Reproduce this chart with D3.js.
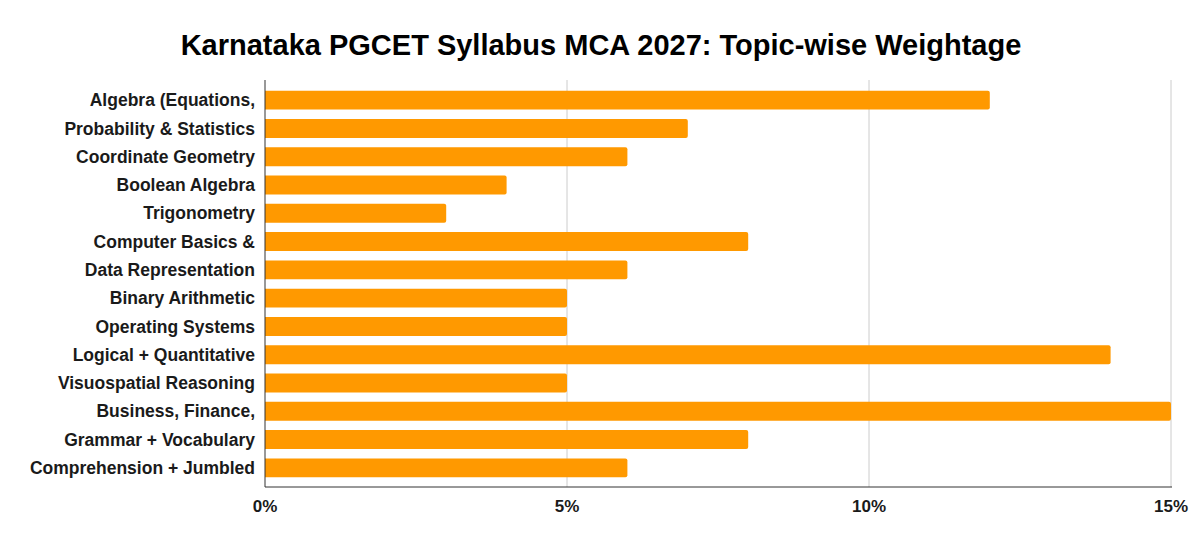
<!DOCTYPE html>
<html>
<head>
<meta charset="utf-8">
<script src="https://cdn.jsdelivr.net/npm/d3@7"></script>
<style>
  body { margin: 0; background: #fff; }
  text { font-family: "Liberation Sans", Arial, sans-serif; }
</style>
</head>
<body>
<div id="chart"></div>
<script>
// Topics, top to bottom
var topics = ["Algebra (Equations,", "Probability & Statistics", "Coordinate Geometry",
  "Boolean Algebra", "Trigonometry", "Computer Basics &", "Data Representation",
  "Binary Arithmetic", "Operating Systems", "Logical + Quantitative",
  "Visuospatial Reasoning", "Business, Finance,", "Grammar + Vocabulary",
  "Comprehension + Jumbled"];
// Weightage in percent
var weights = [12, 7, 6, 4, 3, 8, 6, 5, 5, 14, 5, 15, 8, 6];
var ticks = [0, 5, 10, 15];

var width = 1200, height = 544;
var plotLeft = 265, plotRight = 1171, plotTop = 80, plotBottom = 487;

var svg = d3.select("#chart").append("svg")
  .attr("width", width)
  .attr("height", height);

// title
svg.append("text")
  .attr("x", 601).attr("y", 55)
  .attr("text-anchor", "middle")
  .style("font-size", "29px")
  .style("font-weight", "bold")
  .attr("fill", "#000")
  .text("Karnataka PGCET Syllabus MCA 2027: Topic-wise Weightage");

var x = d3.scaleLinear().domain([0, 15]).range([plotLeft, plotRight]);
var y = d3.scaleBand().domain(topics).range([86, 482]).paddingInner(0.33).paddingOuter(0.165);

// gridlines
svg.selectAll("line.grid")
  .data(ticks.slice(1))
  .enter().append("line")
  .attr("class", "grid")
  .attr("x1", function(d) { return x(d); })
  .attr("x2", function(d) { return x(d); })
  .attr("y1", plotTop).attr("y2", plotBottom)
  .attr("stroke", "#cccccc")
  .attr("stroke-width", 1);

// bars, slightly rounded at the end
var data = topics.map(function(t, i) { return { topic: t, value: weights[i] }; });
svg.selectAll("path.bar")
  .data(data)
  .enter().append("path")
  .attr("class", "bar")
  .attr("fill", "#ff9900")
  .attr("d", function(d) {
    var x0 = x(0), x1 = x(d.value), y0 = y(d.topic), h = y.bandwidth(), r = 2;
    return "M" + x0 + "," + y0 + "H" + (x1 - r) +
      "Q" + x1 + "," + y0 + " " + x1 + "," + (y0 + r) +
      "V" + (y0 + h - r) +
      "Q" + x1 + "," + (y0 + h) + " " + (x1 - r) + "," + (y0 + h) +
      "H" + x0 + "Z";
  });

// axis lines
svg.append("line")
  .attr("x1", plotLeft).attr("x2", plotLeft)
  .attr("y1", plotTop).attr("y2", plotBottom)
  .attr("stroke", "#333").attr("stroke-width", 1);
svg.append("line")
  .attr("x1", plotLeft).attr("x2", plotRight + 1)
  .attr("y1", plotBottom).attr("y2", plotBottom)
  .attr("stroke", "#333").attr("stroke-width", 1);

// category labels
svg.selectAll("text.cat")
  .data(topics)
  .enter().append("text")
  .attr("class", "cat")
  .attr("x", 255)
  .attr("y", function(d) { return y(d) + y.bandwidth() / 2; })
  .attr("dy", "0.35em")
  .attr("text-anchor", "end")
  .style("font-size", "17.5px")
  .style("font-weight", "bold")
  .attr("fill", "#1a1a1a")
  .text(function(d) { return d; });

// x tick labels
svg.selectAll("text.tick")
  .data(ticks)
  .enter().append("text")
  .attr("class", "tick")
  .attr("x", function(d) { return x(d); })
  .attr("y", 512)
  .attr("text-anchor", "middle")
  .style("font-size", "17px")
  .style("font-weight", "bold")
  .attr("fill", "#1a1a1a")
  .text(function(d) { return d + "%"; });
</script>
</body>
</html>
